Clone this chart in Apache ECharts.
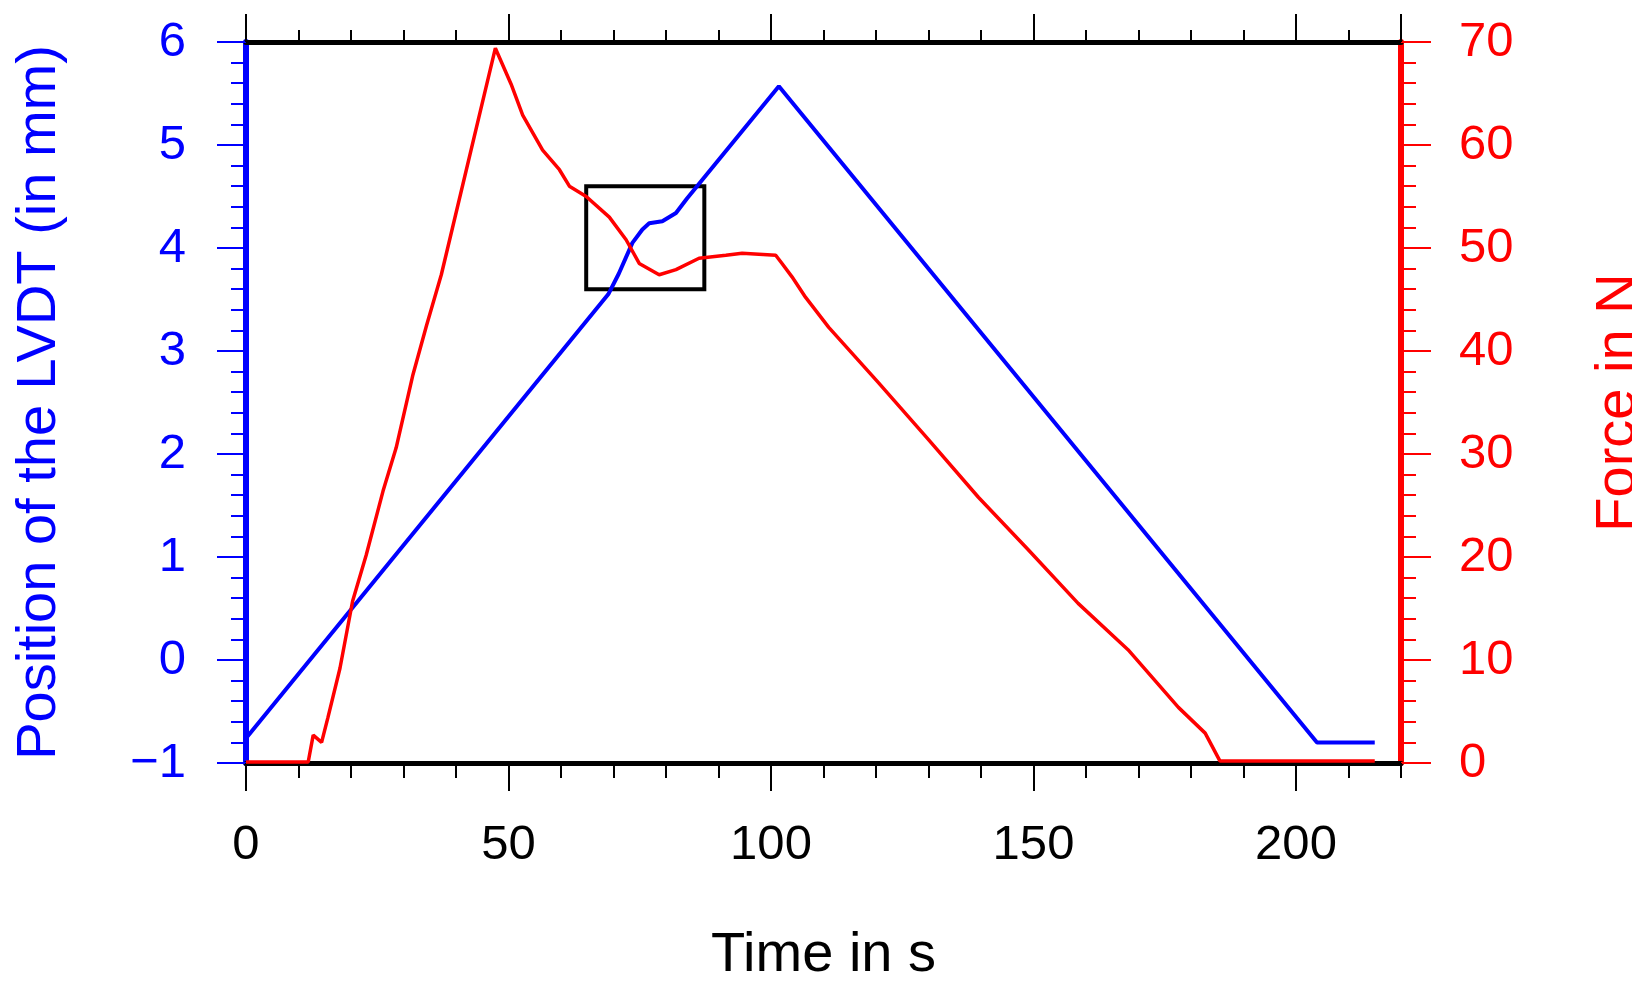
<!DOCTYPE html>
<html>
<head>
<meta charset="utf-8">
<script src="https://cdn.jsdelivr.net/npm/echarts@6/dist/echarts.min.js"></script>
<style>html,body{margin:0;padding:0;background:#fff}#chart{width:1632px;height:983px}</style>
</head>
<body>
<div id="chart"></div>
<script>
// LVDT position (mm) against time (s)
var posTime = [0, 69, 71, 73.6, 75.5, 76.8, 79.3, 81.9, 84, 101.5, 204, 205, 215];
var posVal = [-0.76, 3.55, 3.75, 4.05, 4.18, 4.24, 4.26, 4.34, 4.48, 5.57, -0.8, -0.8, -0.8];

// force (N) against time (s)
var forceTime = [0, 11.85, 12.8, 14.4, 15.6, 17.9, 20.3, 22.9, 26.1, 28.6, 31.8, 34.4, 37.2, 47.5, 50.5, 52.7, 56.5, 59.7, 61.6, 64.8, 69.2, 72.4, 74.9, 78.7, 81.9, 86.3, 91.4, 94.5, 100.9, 102.1, 104, 106.6, 111, 120.5, 130, 139.5, 149, 158.5, 168, 177.6, 182.7, 185.5, 215];
var forceVal = [0.1, 0.1, 2.7, 2.0, 4.4, 9.2, 15.7, 20.2, 26.4, 30.6, 37.7, 42.5, 47.4, 69.4, 65.9, 62.9, 59.5, 57.6, 56, 55, 53, 50.8, 48.5, 47.4, 47.9, 49, 49.3, 49.5, 49.3, 48.5, 47.2, 45.2, 42.3, 36.9, 31.4, 25.8, 20.7, 15.5, 11, 5.4, 2.9, 0.2, 0.2];

// zoom box (time range, position range)
var boxTime = [64.8, 87.3];
var boxPos = [4.6, 3.6];

function pairs(xs, ys) {
    return xs.map(function (x, i) { return [x, ys[i]]; });
}

var font = 'Liberation Sans, Arial, sans-serif';
var myChart = echarts.init(document.getElementById('chart'));

function xAx(pos, step, len, labels, line) {
    return {
        type: 'value', position: pos, min: 0, max: 220, interval: step,
        axisLine: { show: line, onZero: false, lineStyle: { color: '#000', width: 5 } },
        axisTick: { show: true, length: len, lineStyle: { color: '#000', width: 2 } },
        axisLabel: {
            show: labels, color: '#000', fontSize: 49, fontFamily: font, margin: 58,
            showMaxLabel: false,
            formatter: function (v) { return v % 50 === 0 ? String(v) : ''; }
        },
        splitLine: { show: false }
    };
}

var option = {
    animation: false,
    grid: { left: 246, right: 231, top: 42, bottom: 220, outerBoundsMode: 'none', containLabel: false },
    xAxis: [
        Object.assign(xAx('bottom', 50, 28, true, true), {
            name: 'Time in s', nameLocation: 'middle', nameGap: 165,
            nameTextStyle: { color: '#000', fontSize: 56, fontFamily: font }
        }),
        xAx('bottom', 10, 15, false, false),
        xAx('top', 50, 28, false, true),
        xAx('top', 10, 12, false, false)
    ],
    yAxis: [{
        type: 'value', min: -1, max: 6, interval: 1, position: 'left',
        name: 'Position of the LVDT (in mm)', nameLocation: 'middle', nameGap: 178, nameRotate: 90,
        nameTextStyle: { color: '#0000ff', fontSize: 56, fontFamily: font },
        axisLine: { show: true, onZero: false, lineStyle: { color: '#0000ff', width: 6 } },
        axisTick: { show: true, length: 29, lineStyle: { color: '#0000ff', width: 2 } },
        minorTick: { show: true, splitNumber: 5, length: 15, lineStyle: { color: '#0000ff', width: 2 } },
        axisLabel: { color: '#0000ff', fontSize: 49, fontFamily: font, margin: 60,
            formatter: function (v) { return v < 0 ? '\u2212' + (-v) : String(v); } },
        splitLine: { show: false }
    }, {
        type: 'value', min: 0, max: 70, interval: 10, position: 'right',
        name: 'Force in N', nameLocation: 'middle', nameGap: 190, nameRotate: 90,
        nameTextStyle: { color: '#ff0000', fontSize: 56, fontFamily: font },
        axisLine: { show: true, onZero: false, lineStyle: { color: '#ff0000', width: 6 } },
        axisTick: { show: true, length: 30, lineStyle: { color: '#ff0000', width: 2 } },
        minorTick: { show: true, splitNumber: 5, length: 15, lineStyle: { color: '#ff0000', width: 2 } },
        axisLabel: { color: '#ff0000', fontSize: 49, fontFamily: font, margin: 58 },
        splitLine: { show: false }
    }],
    series: [{
        type: 'line', xAxisIndex: 0, yAxisIndex: 0, showSymbol: false,
        lineStyle: { color: '#0000ff', width: 4 },
        data: pairs(posTime, posVal),
        markArea: {
            silent: true,
            itemStyle: { color: 'rgba(0,0,0,0)', borderColor: '#000', borderWidth: 4 },
            data: [[{ coord: [boxTime[0], boxPos[0]] }, { coord: [boxTime[1], boxPos[1]] }]]
        }
    }, {
        type: 'line', xAxisIndex: 0, yAxisIndex: 1, showSymbol: false,
        lineStyle: { color: '#ff0000', width: 3.5 },
        data: pairs(forceTime, forceVal)
    }]
};

myChart.setOption(option);
</script>
</body>
</html>
